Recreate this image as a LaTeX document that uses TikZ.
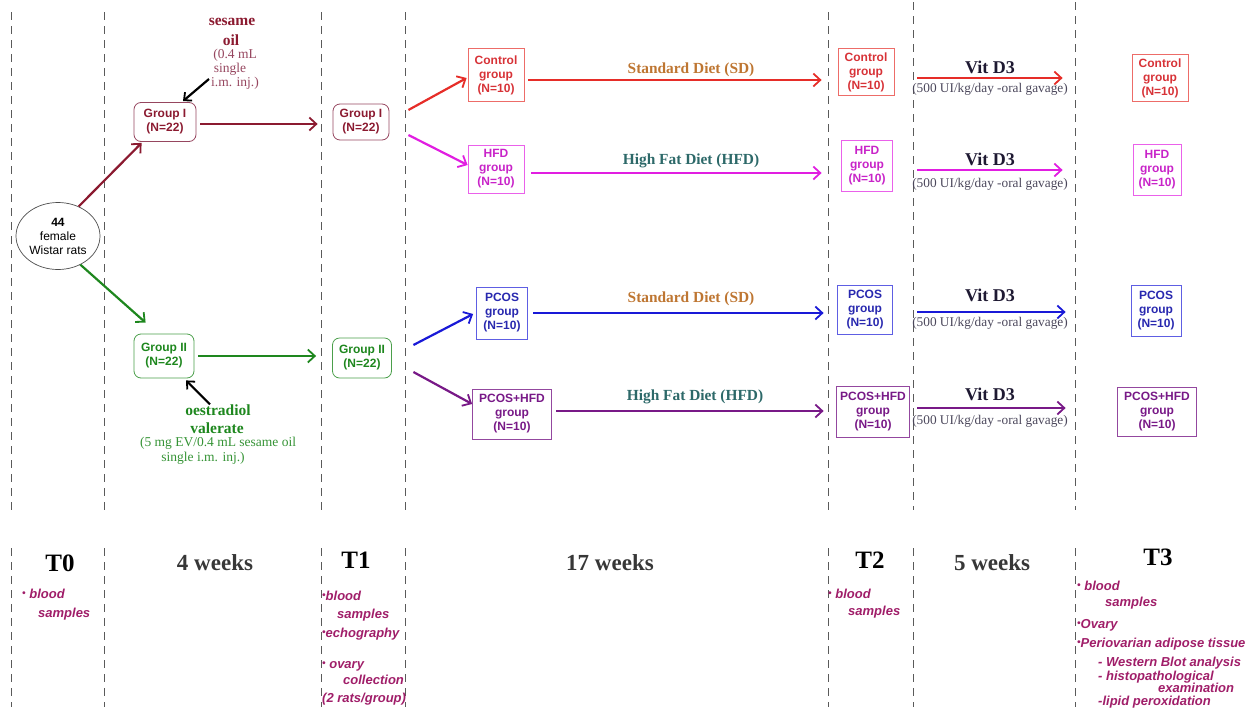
\documentclass[tikz,border=0pt]{standalone}
\usepackage{fontspec}
\setmainfont{Liberation Serif}
\setsansfont{Liberation Sans}
\usetikzlibrary{arrows.meta,calc,shapes.geometric}
\definecolor{cdred}{RGB}{139,26,48}
\definecolor{cdredl}{RGB}{150,70,95}
\definecolor{cgreen}{RGB}{30,135,30}
\definecolor{cred}{RGB}{230,45,40}
\definecolor{credt}{RGB}{215,50,55}
\definecolor{cmag}{RGB}{225,30,225}
\definecolor{cmagt}{RGB}{200,35,200}
\definecolor{cblue}{RGB}{25,25,215}
\definecolor{cbluet}{RGB}{40,40,175}
\definecolor{cpurp}{RGB}{120,25,135}
\definecolor{csd}{RGB}{190,118,50}
\definecolor{chfd}{RGB}{45,105,105}
\definecolor{cvit}{RGB}{30,25,50}
\definecolor{cbul}{RGB}{160,30,105}
\definecolor{cweek}{RGB}{55,55,55}
\definecolor{cdash}{RGB}{90,90,90}
\tikzset{
  dline/.style={draw=cdash,line width=0.8pt,dash pattern=on 8pt off 6pt},
  arr/.style={line width=2.2pt,-{Straight Barb[length=7pt,width=13pt,line width=1.8pt]}},
  blkarr/.style={line width=2.2pt,black,-{Straight Barb[length=6pt,width=11pt,line width=1.8pt]}},
  rbox/.style={draw,rounded corners=7pt,line width=0.8pt,align=center,inner sep=0pt,
     font=\sffamily\bfseries\fontsize{12}{14}\selectfont},
  sbox/.style={draw,line width=0.8pt,align=center,inner sep=0pt,
     font=\sffamily\bfseries\fontsize{12}{14}\selectfont},
  dietlab/.style={font=\bfseries\fontsize{15.4}{17}\selectfont},
  vitlab/.style={font=\bfseries\fontsize{18}{20}\selectfont,text=cvit},
  vitsub/.style={font=\fontsize{13.3}{15}\selectfont,text=cvit!80!white},
  tlab/.style={font=\bfseries\fontsize{25}{27}\selectfont},
  wlab/.style={font=\bfseries\fontsize{23}{25}\selectfont,text=cweek},
  bul/.style={anchor=base west,inner sep=0pt,text=cbul,font=\sffamily\bfseries\itshape\fontsize{13}{15}\selectfont},
  sidebf/.style={font=\bfseries\fontsize{15.5}{17}\selectfont,inner sep=0pt},
  siderm/.style={font=\fontsize{13.5}{15}\selectfont,inner sep=0pt},
}
\newcommand{\bdot}{{\fontsize{10}{10}\selectfont\raisebox{1.2pt}{•}}}
\begin{document}
\begin{tikzpicture}[x=1pt,y=-1pt]
\useasboundingbox (0,0) rectangle (1255,707);
% dashed separators
\foreach \xx/\yt in {11/12,104/12,321/12,405/12,828/12,913/2,1075/2}{
  \draw[dline] (\xx,\yt) -- (\xx,510);
  \draw[dline] (\xx,548) -- (\xx,707);
}
% start
\node[draw=black!70,ellipse,line width=0.7pt,minimum width=84pt,minimum height=67pt,inner sep=0pt,align=center,
  font=\sffamily\fontsize{12}{14}\selectfont] (rats) at (58,236) {\textbf{44}\\female\\Wistar rats};
% groups
\node[rbox,draw=cdredl,text=cdred,minimum width=62pt,minimum height=39pt] (g1a) at (165,122) {Group I\\(N=22)};
\node[rbox,draw=cdredl,text=cdred,minimum width=56pt,minimum height=36pt] (g1b) at (361,122) {Group I\\(N=22)};
\node[rbox,draw=cgreen!80,text=cgreen,minimum width=60pt,minimum height=44pt] (g2a) at (164,356) {Group II\\(N=22)};
\node[rbox,draw=cgreen!80,text=cgreen,minimum width=59pt,minimum height=40pt] (g2b) at (362,358) {Group II\\(N=22)};
% injections
\node[sidebf,text=cdred] (s1) at (232,22) {sesame};
\node[sidebf,text=cdred] (s2) at (231,40) {oil};
\node[siderm,text=cdredl] (s3) at (235,55) {(0.4 mL};
\node[siderm,text=cdredl] (s4) at (230,69) {single};
\node[siderm,text=cdredl] (s5) at (235,83) {i.m. inj.)};
\draw[blkarr] ($(s5.west)+(-2,-4)$) -- ($(g1a.north)+(18,-1)$);
\node[sidebf,text=cgreen] (o1) at (218,410) {oestradiol};
\node[sidebf,text=cgreen] (o2) at (217,428) {valerate};
\node[siderm,text=cgreen!90] (o3) at (218,443) {(5 mg EV/0.4 mL sesame oil};
\node[siderm,text=cgreen!90] (o4) at (203,458) {single i.m. inj.)};
\draw[blkarr] ($(o1.north)+(-8,0)$) -- ($(g2a.south)+(22,2)$);
% first arrows
\draw[arr,cdred] (rats.55) -- ($(g1a.south west)+(8,1)$);
\draw[arr,cdred] ($(g1a.east)+(4,2)$) -- ($(g1b.west)+(-15,2)$);
\draw[arr,cgreen] (rats.-52) -- ($(g2a.north west)+(12,-11)$);
\draw[arr,cgreen] ($(g2a.east)+(4,0)$) -- ($(g2b.west)+(-16,-2)$);
% diet groups
\node[sbox,draw=cred!70,text=credt,minimum width=56pt,minimum height=53pt] (ctl1) at (496,75) {Control\\group\\(N=10)};
\node[sbox,draw=cmag!70,text=cmagt,minimum width=56pt,minimum height=48pt] (hfd1) at (496,169) {HFD\\group\\(N=10)};
\node[sbox,draw=cblue!70,text=cbluet,minimum width=51pt,minimum height=52pt] (pcos1) at (502,313) {PCOS\\group\\(N=10)};
\node[sbox,draw=cpurp!80,text=cpurp,minimum width=79pt,minimum height=50pt] (ph1) at (512,414) {PCOS+HFD\\group\\(N=10)};
\node[sbox,draw=cred!70,text=credt,minimum width=56pt,minimum height=47pt] (ctl2) at (866,72) {Control\\group\\(N=10)};
\node[sbox,draw=cmag!70,text=cmagt,minimum width=51pt,minimum height=51pt] (hfd2) at (867,166) {HFD\\group\\(N=10)};
\node[sbox,draw=cblue!70,text=cbluet,minimum width=55pt,minimum height=49pt] (pcos2) at (865,310) {PCOS\\group\\(N=10)};
\node[sbox,draw=cpurp!80,text=cpurp,minimum width=73pt,minimum height=51pt] (ph2) at (873,412) {PCOS+HFD\\group\\(N=10)};
\node[sbox,draw=cred!70,text=credt,minimum width=56pt,minimum height=47pt] (ctl3) at (1160,78) {Control\\group\\(N=10)};
\node[sbox,draw=cmag!70,text=cmagt,minimum width=48pt,minimum height=51pt] (hfd3) at (1157,170) {HFD\\group\\(N=10)};
\node[sbox,draw=cblue!70,text=cbluet,minimum width=50pt,minimum height=51pt] (pcos3) at (1156,311) {PCOS\\group\\(N=10)};
\node[sbox,draw=cpurp!80,text=cpurp,minimum width=79pt,minimum height=49pt] (ph3) at (1157,412) {PCOS+HFD\\group\\(N=10)};
% branching arrows
\draw[arr,cred] ($(g1b.east)+(19,-12)$) -- ($(ctl1.west)+(-1,3)$);
\draw[arr,cmag] ($(g1b.east)+(19,13)$) -- ($(hfd1.west)+(0,-4)$);
\draw[arr,cblue] ($(g2b.east)+(21.5,-13)$) -- ($(pcos1.west)+(-3,1)$);
\draw[arr,cpurp] ($(g2b.east)+(21.5,14)$) -- ($(ph1.west)+(0,-10)$);
% diet arrows
\draw[arr,cred] ($(ctl1.east)+(4,5)$) -- ($(ctl2.west)+(-16,8)$);
\draw[arr,cmag] ($(hfd1.east)+(7,4)$) -- ($(hfd2.west)+(-19.5,7)$);
\draw[arr,cblue] ($(pcos1.east)+(5.5,0)$) -- ($(pcos2.west)+(-13.5,3)$);
\draw[arr,cpurp] ($(ph1.east)+(4.5,-3)$) -- ($(ph2.west)+(-12.5,-1)$);
\node[dietlab,text=csd] (sd1) at (691,70) {Standard Diet (SD)};
\node[dietlab,text=chfd] (hd1) at (691,161) {High Fat Diet (HFD)};
\node[dietlab,text=csd] (sd2) at (691,299) {Standard Diet (SD)};
\node[dietlab,text=chfd] (hd2) at (695,397) {High Fat Diet (HFD)};
% vit D3 arrows
\draw[arr,cred] ($(ctl2.east)+(23,6)$) -- ($(ctl3.west)+(-69,0)$);
\draw[arr,cmag] ($(hfd2.east)+(24.5,4)$) -- ($(hfd3.west)+(-70,0)$);
\draw[arr,cblue] ($(pcos2.east)+(24.5,2)$) -- ($(pcos3.west)+(-65,1)$);
\draw[arr,cpurp] ($(ph2.east)+(7.5,-4)$) -- ($(ph3.west)+(-51.5,-4)$);
\foreach \n/\yv/\ys in {a/67/89,b/159/184,c/295/323,d/394/421}{
  \node[vitlab] (vit\n) at (990,\yv) {Vit D3};
  \node[vitsub] (vs\n) at (990,\ys) {(500 UI/kg/day -oral gavage)};
}
% bottom timeline
\node[tlab] (t0) at (60,563) {T0};
\node[wlab] (w4) at (215,563) {4 weeks};
\node[tlab] (t1) at (356,560) {T1};
\node[wlab] (w17) at (610,563) {17 weeks};
\node[tlab] (t2) at (870,560) {T2};
\node[wlab] (w5) at (992,563) {5 weeks};
\node[tlab] (t3) at (1158,557) {T3};
% bullets
\node[bul] (b01) at (22,598) {\bdot\ blood};
\node[bul] (b02) at (38,617) {samples};
\node[bul] (b11) at (322,600) {\bdot blood};
\node[bul] (b12) at (337,618) {samples};
\node[bul] (b13) at (322,637) {\bdot echography};
\node[bul] (b14) at (322,668) {\bdot\ ovary};
\node[bul] (b15) at (343,684) {collection};
\node[bul] (b16) at (322,702) {(2 rats/group)};
\node[bul] (b21) at (828,598) {\bdot\ blood};
\node[bul] (b22) at (848,615) {samples};
\node[bul] (b31) at (1077,590) {\bdot\ blood};
\node[bul] (b32) at (1105,606) {samples};
\node[bul] (b33) at (1077,628) {\bdot Ovary};
\node[bul] (b34) at (1077,647) {\bdot Periovarian adipose tissue};
\node[bul] (b35) at (1098,666) {- Western Blot analysis};
\node[bul] (b36) at (1098,680) {- histopathological};
\node[bul] (b37) at (1158,692) {examination};
\node[bul] (b38) at (1098,705) {-lipid peroxidation};
\end{tikzpicture}
\end{document}
